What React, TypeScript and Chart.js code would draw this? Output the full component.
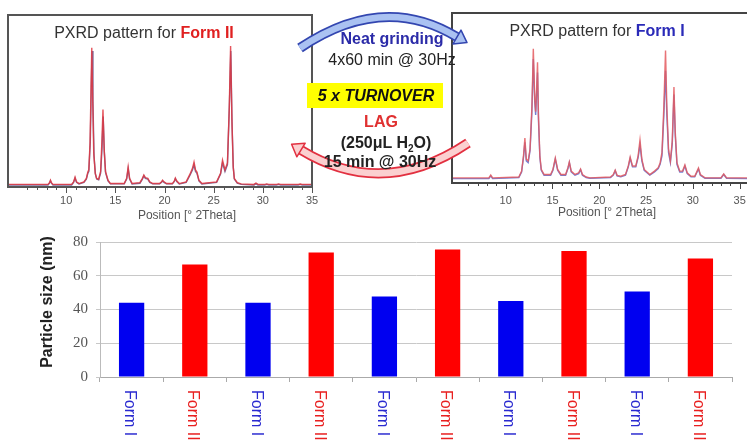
import React, { useEffect, useRef } from 'react';
import { Chart, registerables } from 'chart.js';

Chart.register(...registerables);

// ---------- Bar chart data ----------
const categories = ['Form I', 'Form II', 'Form I', 'Form II', 'Form I', 'Form II', 'Form I', 'Form II', 'Form I', 'Form II'];
const particleSizes = [44, 66.7, 44, 73.8, 47.7, 75.5, 45, 74.6, 50.6, 70.2];
const yAxisMin = 0;
const yAxisMax = 80;
const yAxisStep = 20;
const yAxisTitle = 'Particle size (nm)';
const formIColor = '#0000f0';
const formIIColor = '#ff0000';
const formILabelColor = '#2a2ad0';
const formIILabelColor = '#e82020';

// ---------- PXRD data (2Theta, relative intensity) ----------
const form2Red: [number, number][] = [
  [4.08, 1.5], [8.15, 1.5], [8.3, 2.5], [8.4, 4], [8.5, 2.5], [8.65, 1.5],
  [10.55, 1.5], [10.75, 3], [10.9, 5.8], [11.05, 3], [11.3, 2],
  [11.8, 3], [12.05, 5], [12.2, 8.7], [12.3, 10], [12.42, 25], [12.52, 55], [12.6, 81], [12.68, 55], [12.8, 20], [12.95, 8], [13.1, 5], [13.3, 4.5],
  [13.5, 9], [13.62, 25], [13.74, 45], [13.86, 22], [14.0, 9], [14.1, 7], [14.25, 4], [14.5, 2],
  [15.9, 2], [16.15, 5], [16.3, 11.6], [16.45, 5], [16.7, 2],
  [17.5, 2.5], [17.75, 5], [17.9, 7], [18.05, 5.5], [18.3, 5], [18.5, 3], [18.8, 2],
  [19.5, 2], [19.7, 3], [19.8, 4], [19.95, 3], [20.2, 2],
  [20.8, 2], [21.0, 3.5], [21.1, 5.2], [21.25, 3.5], [21.5, 2],
  [22.2, 3], [22.6, 7.6], [22.85, 11], [23.0, 14.5], [23.15, 10], [23.3, 8.7], [23.5, 4], [23.8, 2],
  [25.3, 3], [25.7, 8], [25.9, 15.7], [26.15, 10], [26.4, 14], [26.58, 45], [26.72, 82], [26.85, 40], [26.98, 12], [27.1, 5], [27.4, 2.5], [27.8, 1.8],
  [29.1, 1.5], [29.3, 2.3], [29.5, 1.5], [30.2, 1.5], [30.4, 1.8], [30.6, 1.5], [31.4, 1.5], [31.6, 1.8], [31.8, 1.5],
  [33.6, 1.5], [33.8, 1.7], [34.0, 1.5], [35, 1.5],
];
const form2Dark: [number, number][] = [
  [4.08, 1.2], [8.15, 1.2], [8.3, 2.2], [8.4, 3.6], [8.5, 2.2], [8.65, 1.2],
  [10.55, 1.2], [10.75, 2.7], [10.9, 5.2], [11.05, 2.7], [11.3, 1.8],
  [11.8, 2.7], [12.05, 4.6], [12.2, 8], [12.3, 9], [12.45, 26], [12.55, 58], [12.63, 79], [12.72, 50], [12.83, 18], [12.97, 7.5], [13.1, 4.6], [13.3, 4.2],
  [13.5, 8], [13.64, 22], [13.76, 41], [13.88, 20], [14.0, 8.5], [14.1, 6.5], [14.25, 3.6], [14.5, 1.8],
  [15.9, 1.8], [16.15, 4.6], [16.3, 10.5], [16.45, 4.6], [16.7, 1.8],
  [17.5, 2.2], [17.75, 4.6], [17.9, 6.5], [18.05, 5], [18.3, 4.6], [18.5, 2.7], [18.8, 1.8],
  [19.5, 1.8], [19.7, 2.7], [19.8, 3.6], [19.95, 2.7], [20.2, 1.8],
  [20.8, 1.8], [21.0, 3.2], [21.1, 4.8], [21.25, 3.2], [21.5, 1.8],
  [22.2, 2.7], [22.6, 7], [22.85, 10], [23.0, 13], [23.15, 9], [23.3, 8], [23.5, 3.6], [23.8, 1.8],
  [25.3, 2.7], [25.7, 7.5], [25.9, 14], [26.15, 9], [26.4, 13], [26.6, 48], [26.74, 79], [26.87, 36], [27.0, 11], [27.1, 4.6], [27.4, 2.2], [27.8, 1.5],
  [29.1, 1.2], [29.3, 2], [29.5, 1.2], [30.2, 1.2], [30.4, 1.5], [30.6, 1.2], [31.4, 1.2], [31.6, 1.5], [31.8, 1.2],
  [33.6, 1.2], [33.8, 1.5], [34.0, 1.2], [35, 1.2],
];
const form1Red: [number, number][] = [
  [4.26, 3], [8.2, 3], [8.4, 4.7], [8.6, 3],
  [11.4, 3.5], [11.7, 7], [11.9, 16], [12.05, 26.5], [12.2, 14], [12.4, 13], [12.6, 20], [12.8, 45], [12.95, 79], [13.1, 50],
  [13.2, 42], [13.3, 55], [13.4, 71], [13.5, 40], [13.65, 16], [13.8, 8], [14.1, 5],
  [14.8, 5], [15.05, 8], [15.3, 14.7], [15.55, 8], [15.9, 5],
  [16.4, 5], [16.65, 9], [16.8, 12.4], [17.0, 7], [17.4, 5], [17.8, 6], [18.0, 8.2], [18.2, 5], [18.6, 3.5], [19.0, 3],
  [21.2, 3.5], [21.5, 5], [21.7, 7.6], [21.9, 4.5], [22.3, 4],
  [22.8, 5], [23.1, 10], [23.3, 15.3], [23.55, 10], [23.9, 10], [24.15, 16], [24.35, 25.3], [24.55, 14], [24.8, 8], [25.1, 6.5], [25.4, 5],
  [25.9, 7], [26.3, 9], [26.5, 11.8], [26.7, 18], [26.9, 45], [27.08, 78], [27.22, 45], [27.4, 20], [27.6, 13],
  [27.8, 25], [27.98, 56.5], [28.12, 30], [28.3, 12], [28.6, 7], [28.9, 7], [29.15, 10.6], [29.4, 6], [29.8, 4],
  [30.2, 4], [30.45, 7], [30.6, 8.8], [30.8, 5], [31.3, 3],
  [33.0, 3], [33.3, 5.3], [33.6, 3], [36, 3],
];
const form1Blue: [number, number][] = [
  [4.26, 2.6], [8.2, 2.6], [8.4, 4.2], [8.6, 2.6],
  [11.4, 3.2], [11.7, 6.5], [11.9, 15], [12.05, 24], [12.2, 13], [12.4, 12], [12.6, 19], [12.8, 42], [12.95, 73], [13.1, 48],
  [13.2, 40], [13.3, 52], [13.4, 65], [13.5, 37], [13.65, 15], [13.8, 7.5], [14.1, 4.6],
  [14.8, 4.6], [15.05, 7.5], [15.3, 14], [15.55, 7.5], [15.9, 4.6],
  [16.4, 4.6], [16.65, 8.5], [16.8, 12], [17.0, 6.5], [17.4, 4.6], [17.8, 5.5], [18.0, 7.8], [18.2, 4.6], [18.6, 3.2], [19.0, 2.8],
  [21.2, 3.2], [21.5, 4.6], [21.7, 7.2], [21.9, 4.2], [22.3, 3.6],
  [22.8, 4.6], [23.1, 9.5], [23.3, 14.5], [23.55, 9.5], [23.9, 9.5], [24.15, 15], [24.35, 22.4], [24.55, 13], [24.8, 7.5], [25.1, 6], [25.4, 4.6],
  [25.9, 6.5], [26.3, 8.5], [26.5, 11], [26.7, 16], [26.9, 40], [27.08, 66], [27.22, 40], [27.4, 18], [27.6, 12],
  [27.8, 23], [27.98, 52], [28.12, 28], [28.3, 11], [28.6, 6.5], [28.9, 6.5], [29.15, 10], [29.4, 5.5], [29.8, 3.6],
  [30.2, 3.6], [30.45, 6.5], [30.6, 8.2], [30.8, 4.6], [31.3, 2.8],
  [33.0, 2.8], [33.3, 5], [33.6, 2.8], [36, 2.6],
];
const pxrdLabelStep = 5;
const pxrdFirstLabel = 10;

const SANS = '"Liberation Sans", Arial, sans-serif';
const SERIF = '"Liberation Serif", "Times New Roman", serif';

// ---------- PXRD chart ----------
const pxrdFrame = {
  id: 'pxrdFrame',
  afterDraw(chart: any) {
    const { ctx, chartArea: a, scales } = chart;
    const x = scales.x;
    const color = chart.options.plugins.pxrdFrame?.color || '#555';
    ctx.save();
    ctx.strokeStyle = color;
    ctx.lineWidth = 2;
    ctx.strokeRect(a.left, a.top, a.right - a.left, a.bottom - a.top);
    ctx.lineWidth = 1;
    for (const t of x.ticks) {
      const v = t.value;
      if (Math.abs(v - Math.round(v)) > 1e-6) continue;
      const px = Math.round(x.getPixelForValue(v)) + 0.5;
      const len = Math.round(v) % pxrdLabelStep === 0 ? 6 : 3;
      ctx.beginPath();
      ctx.moveTo(px, a.bottom);
      ctx.lineTo(px, a.bottom + len);
      ctx.stroke();
    }
    ctx.restore();
  },
};

type Series = { points: [number, number][]; color: string };

function PxrdChart(props: {
  left: number; top: number; width: number; height: number;
  pad: { left: number; right: number; top: number }; axisH: number; tickPad: number;
  xMin: number; xMax: number; series: Series[]; frameColor: string;
}) {
  const ref = useRef<HTMLCanvasElement>(null);
  useEffect(() => {
    const chart = new Chart(ref.current as HTMLCanvasElement, {
      type: 'line',
      data: {
        datasets: props.series.map((s) => ({
          data: s.points.map(([x, y]) => ({ x, y })),
          borderColor: s.color,
          borderWidth: 1.4,
          pointRadius: 0,
          tension: 0,
          fill: false,
        })),
      },
      options: {
        responsive: false,
        animation: false,
        events: [],
        layout: { padding: { left: props.pad.left, right: props.pad.right, top: props.pad.top, bottom: 0 } },
        plugins: { legend: { display: false }, tooltip: { enabled: false }, pxrdFrame: { color: props.frameColor } } as any,
        scales: {
          x: {
            type: 'linear',
            min: props.xMin,
            max: props.xMax,
            grid: { display: false, drawTicks: false },
            border: { display: false },
            ticks: {
              stepSize: 1,
              autoSkip: false,
              maxRotation: 0,
              padding: props.tickPad,
              color: '#555',
              font: { family: SANS, size: 11 },
              callback: (v: any) => {
                const r = Math.round(v);
                return Math.abs(v - r) < 1e-6 && r % pxrdLabelStep === 0 && r >= pxrdFirstLabel ? String(r) : '';
              },
            },
            afterFit: (s: any) => { s.height = props.axisH; },
          },
          y: { display: false, min: 0, max: 100 },
        },
      },
      plugins: [pxrdFrame],
    });
    return () => chart.destroy();
  }, []);
  return (
    <canvas
      ref={ref}
      width={props.width}
      height={props.height}
      style={{ position: 'absolute', left: props.left, top: props.top }}
    />
  );
}

// ---------- Bar chart ----------
const barLabels = {
  id: 'barLabels',
  afterDraw(chart: any) {
    const { ctx, chartArea: a, scales } = chart;
    const xs = scales.x;
    ctx.save();
    ctx.font = `16px ${SANS}`;
    ctx.textAlign = 'left';
    ctx.textBaseline = 'middle';
    categories.forEach((c, i) => {
      const px = xs.getPixelForValue(i) - 2;
      ctx.save();
      ctx.translate(px, a.bottom + 13);
      ctx.rotate(Math.PI / 2);
      ctx.fillStyle = c === 'Form I' ? formILabelColor : formIILabelColor;
      ctx.fillText(c, 0, 0);
      ctx.restore();
    });
    ctx.save();
    ctx.translate(48, 77);
    ctx.rotate(-Math.PI / 2);
    ctx.font = `bold 16px ${SANS}`;
    ctx.fillStyle = '#222';
    ctx.textAlign = 'center';
    ctx.fillText(yAxisTitle, 0, 0);
    ctx.restore();
    ctx.restore();
  },
};

function BarChart() {
  const ref = useRef<HTMLCanvasElement>(null);
  useEffect(() => {
    const chart = new Chart(ref.current as HTMLCanvasElement, {
      type: 'bar',
      data: {
        labels: categories,
        datasets: [
          {
            data: particleSizes,
            backgroundColor: categories.map((c) => (c === 'Form I' ? formIColor : formIIColor)),
            borderWidth: 0,
            categoryPercentage: 1,
            barPercentage: 0.4,
          },
        ],
      },
      options: {
        responsive: false,
        animation: false,
        events: [],
        layout: { padding: { left: 0, right: 15, top: 15, bottom: 0 } },
        plugins: { legend: { display: false }, tooltip: { enabled: false } },
        scales: {
          x: {
            grid: { display: true, drawOnChartArea: false, drawTicks: true, tickLength: 5, color: '#aaa', offset: true },
            border: { display: true, color: '#aaa' },
            ticks: { display: false },
            afterFit: (s: any) => { s.height = 65; },
          },
          y: {
            min: yAxisMin,
            max: yAxisMax,
            ticks: { stepSize: yAxisStep, padding: 8, color: '#555', font: { family: SERIF, size: 15 } },
            grid: { color: '#c8c8c8', tickLength: 4 },
            border: { display: true, color: '#bbb' },
            afterFit: (s: any) => { s.width = 100; },
          },
        },
      },
      plugins: [barLabels],
    });
    return () => chart.destroy();
  }, []);
  return <canvas ref={ref} width={747} height={217} style={{ position: 'absolute', left: 0, top: 225 }} />;
}

function Txt(props: { cx: number; cy: number; style?: React.CSSProperties; children: React.ReactNode }) {
  return (
    <div
      style={{
        position: 'absolute',
        left: props.cx - 150,
        top: props.cy - 10,
        width: 300,
        height: 20,
        lineHeight: '20px',
        textAlign: 'center',
        whiteSpace: 'nowrap',
        fontFamily: SANS,
        fontSize: 16,
        color: '#222',
        ...props.style,
      }}
    >
      {props.children}
    </div>
  );
}

export default function App() {
  return (
    <div style={{ position: 'fixed', left: 0, top: 0, width: 747, height: 442, overflow: 'hidden', background: '#fff' }}>
      <PxrdChart
        left={0} top={0} width={330} height={225}
        pad={{ left: 8, right: 18, top: 15 }} axisH={38} tickPad={7}
        xMin={4.08} xMax={35}
        series={[
          { points: form2Red, color: 'rgba(225,55,65,0.85)' },
          { points: form2Dark, color: 'rgba(90,70,130,0.8)' },
        ]}
        frameColor="#555"
      />
      <PxrdChart
        left={440} top={0} width={330} height={225}
        pad={{ left: 12, right: 21, top: 13 }} axisH={42} tickPad={11}
        xMin={4.26} xMax={36}
        series={[
          { points: form1Red, color: 'rgba(228,90,95,0.85)' },
          { points: form1Blue, color: 'rgba(90,105,205,0.85)' },
        ]}
        frameColor="#444"
      />
      <BarChart />

      <svg width={747} height={442} style={{ position: 'absolute', left: 0, top: 0, pointerEvents: 'none' }}>
        <path d="M 300 48 Q 383 -8 457 37" fill="none" stroke="#3346b0" strokeWidth={10} />
        <path d="M 300 48 Q 383 -8 457 37" fill="none" stroke="#aac2f2" strokeWidth={6.5} />
        <polygon points="453,43.9 461,30.1 467,42.6" fill="#aac2f2" stroke="#3346b0" strokeWidth={1.5} strokeLinejoin="round" />
        <path d="M 468 143 Q 383 200 301 150" fill="none" stroke="#e23040" strokeWidth={10} />
        <path d="M 468 143 Q 383 200 301 150" fill="none" stroke="#fbd0d0" strokeWidth={6.5} />
        <polygon points="305.2,143.2 296.8,156.8 291.6,144.3" fill="#fbd0d0" stroke="#e23040" strokeWidth={1.5} strokeLinejoin="round" />
      </svg>

      <Txt cx={144} cy={33} style={{ color: '#333' }}>
        PXRD pattern for <b style={{ color: '#e02020' }}>Form II</b>
      </Txt>
      <Txt cx={597} cy={31} style={{ color: '#333' }}>
        PXRD pattern for <b style={{ color: '#2a2ab8' }}>Form I</b>
      </Txt>
      <Txt cx={187} cy={215} style={{ fontSize: 12, color: '#555' }}>Position [°  2Theta]</Txt>
      <Txt cx={607} cy={212} style={{ fontSize: 12, color: '#555' }}>Position [°  2Theta]</Txt>

      <Txt cx={392} cy={39} style={{ fontWeight: 'bold', color: '#2b2ba8' }}>Neat grinding</Txt>
      <Txt cx={392} cy={60}>4x60 min @ 30Hz</Txt>
      <div style={{ position: 'absolute', left: 307, top: 83, width: 136, height: 25, background: '#ffff00' }} />
      <Txt cx={376} cy={96} style={{ fontWeight: 'bold', fontStyle: 'italic', color: '#111' }}>5 x TURNOVER</Txt>
      <Txt cx={381} cy={122} style={{ fontWeight: 'bold', color: '#e03030' }}>LAG</Txt>
      <Txt cx={386} cy={143} style={{ fontWeight: 'bold' }}>
        (250μL H<sub style={{ fontSize: 10, lineHeight: 0 }}>2</sub>O)
      </Txt>
      <Txt cx={380} cy={162} style={{ fontWeight: 'bold' }}>15 min @ 30Hz</Txt>
    </div>
  );
}
